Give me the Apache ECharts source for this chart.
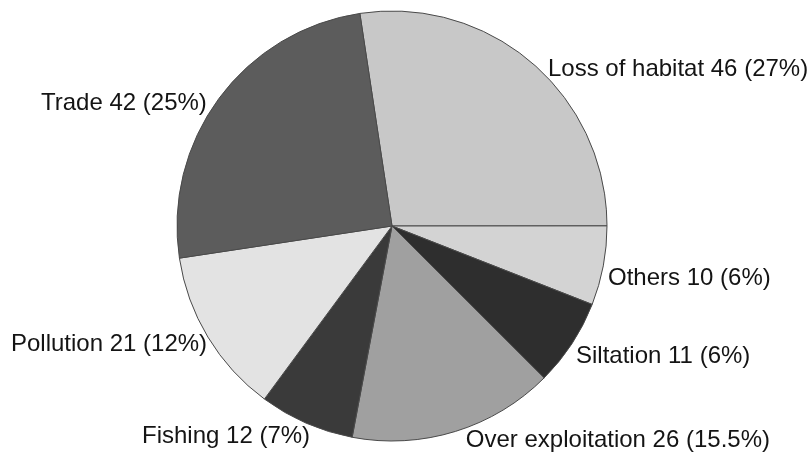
<!DOCTYPE html>
<html>
<head>
<meta charset="utf-8">
<style>
  html, body { margin: 0; padding: 0; background: #ffffff; }
  #chart { width: 809px; height: 455px; }
</style>
<script src="https://cdn.jsdelivr.net/npm/echarts@6/dist/echarts.min.js"></script>
</head>
<body>
<div id="chart"></div>
<script>
// Causes of threat, clockwise from the top
const categories = ['Loss of habitat', 'Others', 'Siltation', 'Over exploitation', 'Fishing', 'Pollution', 'Trade'];
const counts = [46, 10, 11, 26, 12, 21, 42];
const shareLabels = ['27%', '6%', '6%', '15.5%', '7%', '12%', '25%'];

// Slice fills (greyscale)
const sliceColors = ['#c8c8c8', '#d3d3d3', '#2e2e2e', '#a0a0a0', '#3a3a3a', '#e3e3e3', '#5c5c5c'];

// Label anchors: [x, y, align]
const labelAnchors = [
  [548, 69, 'left'],
  [608, 278, 'left'],
  [576, 356, 'left'],
  [770, 440, 'right'],
  [142, 436, 'left'],
  [11, 344, 'left'],
  [41, 103, 'left']
];

const chart = echarts.init(document.getElementById('chart'), null, { renderer: 'canvas' });

chart.setOption({
  animation: false,
  backgroundColor: '#ffffff',
  series: [{
    type: 'pie',
    center: [392, 226],
    radius: [0, 215],
    startAngle: 98.6,
    clockwise: true,
    avoidLabelOverlap: false,
    data: categories.map((name, i) => ({
      name: name,
      value: counts[i],
      itemStyle: { color: sliceColors[i] }
    })),
    itemStyle: { borderColor: '#4a4a4a', borderWidth: 1 },
    label: {
      show: true,
      position: 'outside',
      color: '#141414',
      fontFamily: 'Liberation Sans, Arial, sans-serif',
      fontSize: 24,
      formatter: p => `${p.name} ${counts[p.dataIndex]} (${shareLabels[p.dataIndex]})`
    },
    labelLine: { show: false },
    labelLayout: p => {
      const a = labelAnchors[p.dataIndex];
      return { x: a[0], y: a[1], align: a[2], verticalAlign: 'middle' };
    },
    emphasis: { disabled: true }
  }]
});
</script>
</body>
</html>
